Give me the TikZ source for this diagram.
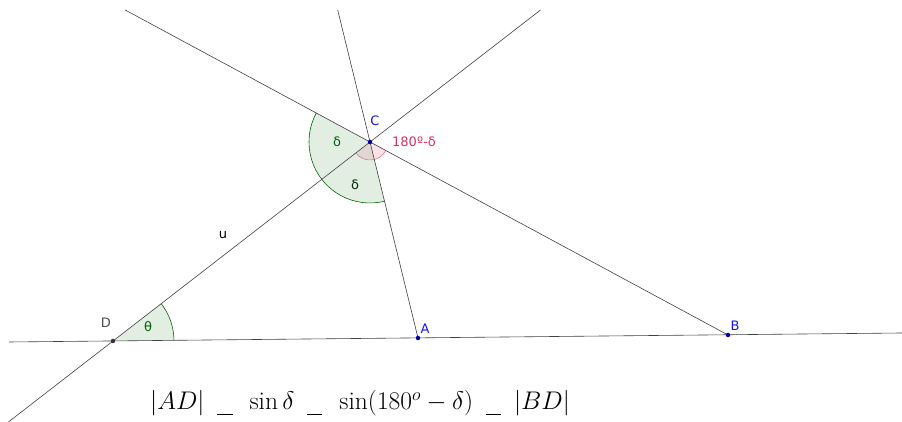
\documentclass[tikz,border=0pt]{standalone}
\usepackage{fix-cm}
\usepackage{amsmath, amssymb}
\usepackage{fontspec}
\newfontfamily\lblfont{DejaVu Sans}
\usepackage{tikz}
\usetikzlibrary{angles}
\definecolor{ptblue}{RGB}{0,0,160}
\definecolor{lblblue}{RGB}{20,20,235}
\definecolor{anggreen}{RGB}{0,100,0}
\definecolor{angpink}{RGB}{220,50,95}
\newcommand{\eqbar}{\hspace{0.5em}\rule[-0.2em]{0.6em}{0.04em}\hspace{0.5em}}
\tikzset{
  geoline/.style={draw=black!75, line width=0.6pt},
  geopt/.style={circle, fill=#1, inner sep=0pt, minimum size=4.5pt},
  geolbl/.style={font=\lblfont\fontsize{13}{15}\selectfont, text=#1, inner sep=0pt},
  greenang/.style={draw=anggreen, fill=anggreen, fill opacity=0.11, line width=0.6pt, angle radius=61pt},
  pinkang/.style={draw=angpink!70, fill=angpink, fill opacity=0.13, line width=0.6pt, angle radius=18pt}
}
\begin{document}
\begin{tikzpicture}[x=1pt, y=1pt]
\useasboundingbox (0,0) rectangle (902,422);
\clip (0,0) rectangle (902,422);
% points of the figure
\coordinate (D) at (113,81);
\coordinate (A) at (418,84);
\coordinate (B) at (728,87);
\coordinate (C) at (370,280);
% free ends of the lines
\coordinate (hl) at (9,80);
\coordinate (hr) at (902,89);
\coordinate (ul) at (8.4,0);
\coordinate (ur) at (540.5,412);
\coordinate (at) at (337.7,412);
\coordinate (bt) at (125.2,412);
% angles
\pic [greenang] {angle = bt--C--A};
\pic [pinkang] {angle = D--C--B};
\pic [greenang] {angle = A--D--C};
% lines
\draw[geoline] (hl) -- (hr);
\draw[geoline] (ul) -- (ur);
\draw[geoline] (at) -- (A);
\draw[geoline] (bt) -- (B);
% points
\node[geopt=black!80] (Dp) at (D) {};
\node[geopt=ptblue] (Ap) at (A) {};
\node[geopt=ptblue] (Bp) at (B) {};
\node[geopt=ptblue] (Cp) at (C) {};
% labels
\node[geolbl=black!70] (Dlbl) at (106,99) {D};
\node[geolbl=lblblue] (Albl) at (425,93) {A};
\node[geolbl=lblblue] (Blbl) at (735,96) {B};
\node[geolbl=lblblue] (Clbl) at (375,301) {C};
\node[geolbl=black] (ulbl) at (223,187) {u};
\node[geolbl=anggreen] (th) at (148,95) {θ};
\node[geolbl=anggreen] (d1) at (337,280) {δ};
\node[geolbl=anggreen!40!black] (d2) at (355,237) {δ};
\node[geolbl=angpink] (ext) at (414,280) {180º-δ};
% formula
\node[anchor=base west, inner sep=0pt, font=\fontsize{25.5}{30}\selectfont] (law) at (150,12)
  {$|AD|\eqbar\sin\delta\eqbar\sin(180^o-\delta)\eqbar|BD|$};
\end{tikzpicture}
\end{document}
